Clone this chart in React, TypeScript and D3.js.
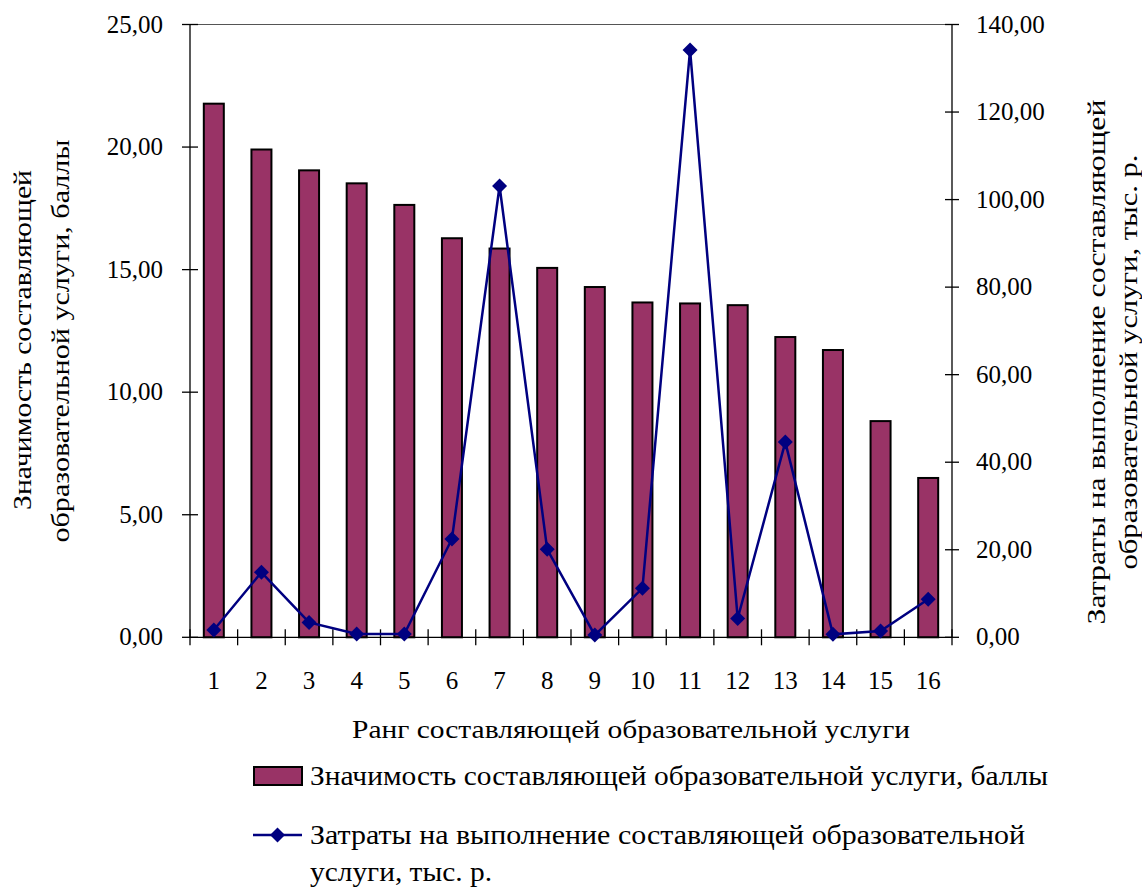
import React from "react";
import * as d3 from "d3";

const categories = ["1","2","3","4","5","6","7","8","9","10","11","12","13","14","15","16"];
const scores = [21.77, 19.9, 19.05, 18.52, 17.64, 16.28, 15.86, 15.07, 14.29, 13.66, 13.62, 13.55, 12.25, 11.72, 8.82, 6.5];
const costs = [1.67, 14.85, 3.4, 0.75, 0.75, 22.46, 103.1, 20.1, 0.5, 11.2, 134.2, 4.3, 44.6, 0.68, 1.44, 8.7];
const leftTicks = [0, 5, 10, 15, 20, 25];
const rightTicks = [0, 20, 40, 60, 80, 100, 120, 140];

const FONT = '"Times New Roman", Tinos, Times, "Liberation Serif", serif';
const fmt = (v: number) => v.toFixed(2).replace(".", ",");

export default function App() {
  const left = 190, right = 952, top = 24.5, bottom = 637.3;
  const x = d3.scaleBand<string>().domain(categories).range([left, right]).paddingInner(0.58).paddingOuter(0.29);
  const step = x.step();
  const yL = d3.scaleLinear().domain([0, 25]).range([bottom, top]);
  const yR = d3.scaleLinear().domain([0, 140]).range([bottom, top]);
  const line = d3.line<number>().x((_, i) => (x(categories[i]) as number) + x.bandwidth() / 2).y(d => yR(d));
  const diamond = (cx: number, cy: number, r: number) => `M${cx},${cy - r}L${cx + r},${cy}L${cx},${cy + r}L${cx - r},${cy}Z`;
  const boundaries = d3.range(categories.length + 1).map(i => left + i * step);

  return (
    <svg width={1142} height={888} fontFamily={FONT} style={{ position: "absolute", left: 0, top: 0, fontFamily: FONT }}>
      <rect x={0} y={0} width={1142} height={888} fill="#fff" />
      <line x1={left} x2={right} y1={top} y2={top} stroke="#555" strokeWidth={1} />
      {scores.map((v, i) => (
        <rect key={i} x={x(categories[i])} y={yL(v)} width={x.bandwidth()} height={bottom - yL(v)}
          fill="#993366" stroke="#000" strokeWidth={2} />
      ))}
      <line x1={left} x2={left} y1={top} y2={bottom} stroke="#000" strokeWidth={1.3} />
      <line x1={right} x2={right} y1={top} y2={bottom} stroke="#000" strokeWidth={1.3} />
      <line x1={left} x2={right} y1={bottom} y2={bottom} stroke="#000" strokeWidth={1.3} />
      {leftTicks.map(t => (
        <g key={"l" + t}>
          <line x1={182} x2={198} y1={yL(t)} y2={yL(t)} stroke="#000" strokeWidth={1.3} />
          <text x={163} y={yL(t) + 8} textAnchor="end" fontSize={25} fill="#000">{fmt(t)}</text>
        </g>
      ))}
      {rightTicks.map(t => (
        <g key={"r" + t}>
          <line x1={945} x2={959} y1={yR(t)} y2={yR(t)} stroke="#000" strokeWidth={1.3} />
          <text x={976} y={yR(t) + 8} textAnchor="start" fontSize={25} fill="#000">{fmt(t)}</text>
        </g>
      ))}
      {boundaries.map((b, i) => (
        <line key={"b" + i} x1={b} x2={b} y1={bottom - 8} y2={bottom + 8} stroke="#000" strokeWidth={1.3} />
      ))}
      {categories.map(c => (
        <text key={"c" + c} x={(x(c) as number) + x.bandwidth() / 2} y={689} textAnchor="middle" fontSize={25} fill="#000">{c}</text>
      ))}
      <path d={line(costs) || ""} fill="none" stroke="#000080" strokeWidth={2.5} />
      {costs.map((v, i) => (
        <path key={"m" + i} d={diamond((x(categories[i]) as number) + x.bandwidth() / 2, yR(v), 7.5)} fill="#000080" />
      ))}
      <text x={631} y={738} textAnchor="middle" fontSize={26} fill="#000" textLength={558} lengthAdjust="spacingAndGlyphs">Ранг составляющей образовательной услуги</text>
      <g transform="translate(31,340) rotate(-90)">
        <text x={0} y={0} textAnchor="middle" fontSize={26} fill="#000" textLength={340} lengthAdjust="spacingAndGlyphs">Значимость составляющей</text>
      </g>
      <g transform="translate(69,341) rotate(-90)">
        <text x={0} y={0} textAnchor="middle" fontSize={26} fill="#000" textLength={403} lengthAdjust="spacingAndGlyphs">образовательной услуги, баллы</text>
      </g>
      <g transform="translate(1105,362) rotate(-90)">
        <text x={0} y={0} textAnchor="middle" fontSize={26} fill="#000" textLength={525} lengthAdjust="spacingAndGlyphs">Затраты на выполнение составляющей</text>
      </g>
      <g transform="translate(1137,362) rotate(-90)">
        <text x={0} y={0} textAnchor="middle" fontSize={26} fill="#000" textLength={415} lengthAdjust="spacingAndGlyphs">образовательной услуги, тыс. р.</text>
      </g>
      <rect x={254} y={767} width={48} height={18} fill="#993366" stroke="#000" strokeWidth={2} />
      <text x={310} y={785} fontSize={28} fill="#000" textLength={738} lengthAdjust="spacingAndGlyphs">Значимость составляющей образовательной услуги, баллы</text>
      <line x1={253} x2={302} y1={835} y2={835} stroke="#000080" strokeWidth={2.5} />
      <path d={diamond(277.5, 835, 7.5)} fill="#000080" />
      <text x={310} y={844} fontSize={28} fill="#000" textLength={715} lengthAdjust="spacingAndGlyphs">Затраты на выполнение составляющей образовательной</text>
      <text x={310} y={881} fontSize={28} fill="#000" textLength={182} lengthAdjust="spacingAndGlyphs">услуги, тыс. р.</text>
    </svg>
  );
}
